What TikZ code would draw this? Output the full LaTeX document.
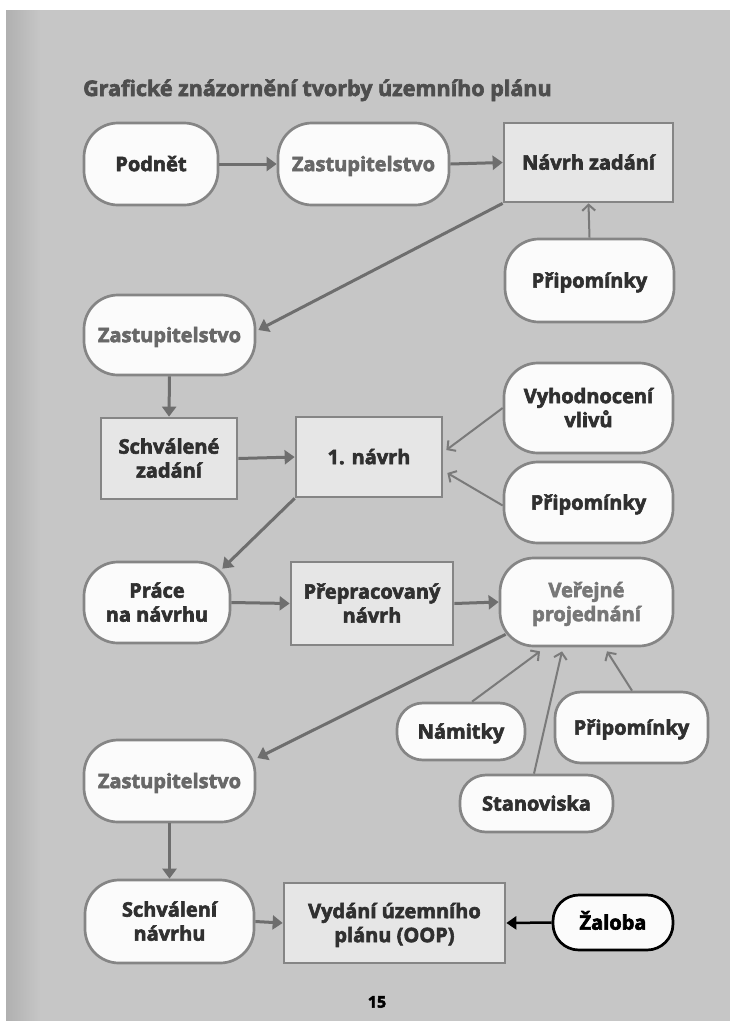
\documentclass[tikz,border=0pt]{standalone}
\usepackage{fontspec}
\setmainfont{Open Sans}[BoldFeatures={FakeBold=3}]
\usetikzlibrary{arrows.meta}
\definecolor{pagebg}{HTML}{C6C6C6}
\definecolor{pageedge}{HTML}{B0B0B0}
\definecolor{boxline}{HTML}{858585}
\definecolor{rectfill}{HTML}{E6E6E6}
\definecolor{roundfill}{HTML}{FBFBFB}
\definecolor{txtdark}{HTML}{303030}
\definecolor{txtgray}{HTML}{686868}
\definecolor{titlegray}{HTML}{4E4E4E}
\definecolor{mainline}{HTML}{6E6E6E}
\definecolor{thinline}{HTML}{7A7A7A}
\tikzset{
  boxbase/.style={draw=boxline, line width=2.7pt, align=center, inner sep=0pt,
    font=\bfseries\fontsize{20}{24}\selectfont, text=txtdark,
    text height=14.3pt, text depth=0pt},
  twolines/.style={text height=38.3pt, text depth=0pt},
  rbox/.style={boxbase, fill=roundfill, rounded corners=34pt},
  rsmall/.style={boxbase, fill=roundfill, rounded corners=26pt},
  sbox/.style={boxbase, fill=rectfill},
  mainarrow/.style={draw=mainline, line width=3pt, -{Triangle[length=10pt,width=14pt]}},
  thinarrow/.style={draw=thinline, line width=2pt, -{Straight Barb[length=6pt,width=13pt]}},
  blackarrow/.style={draw=black, line width=2.5pt, -{Triangle[length=10pt,width=13pt]}}
}
\begin{document}
\begin{tikzpicture}[x=1pt,y=-1pt]
\useasboundingbox (0,0) rectangle (730,1021);
\fill[white] (0,0) rectangle (730,1021);
\fill[pagebg] (6,10) rectangle (730,1021);
\shade[left color=pageedge, right color=pagebg] (6,10) rectangle (40,1021);

\node[anchor=base west, font=\bfseries\fontsize{21.5}{26}\selectfont, text=titlegray, inner sep=0pt] (title) at (83,96) {Grafické znázornění tvorby územního plánu};

\node[rbox, minimum width=134pt, minimum height=82pt] (podnet) at (151,164) {Podnět};
\node[rbox, minimum width=171pt, minimum height=82pt, text=txtgray] (zast1) at (363.5,164) {Zastupitelstvo};
\node[sbox, minimum width=169pt, minimum height=79pt] (navrh) at (588.5,162.5) {Návrh zadání};
\node[rbox, minimum width=169pt, minimum height=83pt] (prip1) at (589.5,280.5) {Připomínky};
\node[rbox, minimum width=171pt, minimum height=80pt, text=txtgray] (zast2) at (169.5,335) {Zastupitelstvo};
\node[sbox, twolines, minimum width=136pt, minimum height=81pt] (schvzad) at (169,458.5) {Schválené\\zadání};
\node[sbox, minimum width=146pt, minimum height=80pt] (navrh1) at (369,457) {1. návrh};
\node[rbox, twolines, minimum width=169pt, minimum height=90pt] (vyhod) at (588.5,408) {Vyhodnocení\\vlivů};
\node[rbox, minimum width=169pt, minimum height=81pt] (prip2) at (588.5,502.5) {Připomínky};
\node[rbox, twolines, minimum width=146pt, minimum height=81pt] (prace) at (157,602.5) {Práce\\na návrhu};
\node[sbox, twolines, minimum width=162pt, minimum height=83pt] (prepr) at (372,603.5) {Přepracovaný\\návrh};
\node[rbox, twolines, minimum width=173pt, minimum height=88pt, text=txtgray!90!white] (verej) at (586.5,602) {Veřejné\\projednání};
\node[rsmall, minimum width=128pt, minimum height=57pt] (namitky) at (461,731.5) {Námitky};
\node[rsmall, minimum width=153pt, minimum height=71pt] (prip3) at (631.5,727.5) {Připomínky};
\node[rsmall, minimum width=153pt, minimum height=57pt] (stanov) at (536.5,803.5) {Stanoviska};
\node[rbox, minimum width=171pt, minimum height=82pt, text=txtgray] (zast3) at (169.5,781) {Zastupitelstvo};
\node[rbox, twolines, minimum width=169pt, minimum height=83pt] (schvnav) at (169.5,921.5) {Schválení\\návrhu};
\node[sbox, twolines, minimum width=221pt, minimum height=80pt] (vydani) at (394.5,923) {Vydání územního\\plánu (OOP)};
\node[rsmall, draw=black, text=black, minimum width=120pt, minimum height=55pt] (zaloba) at (613,922.5) {Žaloba};

\node[font=\bfseries\fontsize{16}{18}\selectfont, text=black] (pagenum) at (377,1002) {15};

% main flow
\draw[mainarrow] (podnet.east) -- (zast1.west);
\draw[mainarrow] (zast1.east) -- (navrh.west);
\draw[mainarrow] (navrh.south west) -- ([xshift=2pt,yshift=5pt]zast2.east);
\draw[mainarrow] (zast2.south) -- (schvzad.north);
\draw[mainarrow] (schvzad.east) -- (navrh1.west);
\draw[mainarrow] (navrh1.south west) -- ([xshift=-9pt,yshift=-8pt]prace.north east);
\draw[mainarrow] (prace.east) -- (prepr.west);
\draw[mainarrow] (prepr.east) -- (verej.west);
\draw[mainarrow] ([xshift=7pt,yshift=13pt]verej.south west) -- ([xshift=1pt,yshift=23pt]zast3.east);
\draw[mainarrow] (zast3.south) -- (schvnav.north);
\draw[mainarrow] (schvnav.east) -- (vydani.west);
\draw[blackarrow] (zaloba.west) -- (vydani.east);

% inputs
\draw[thinarrow] (prip1.north) -- (navrh.south);
\draw[thinarrow] (vyhod.west) -- ([xshift=3pt,yshift=7pt]navrh1.east);
\draw[thinarrow] ([yshift=-3pt]prip2.west) -- ([xshift=4pt,yshift=-16pt]navrh1.east);
\draw[thinarrow] ([xshift=11pt]namitky.north) -- ([xshift=-46.5pt,yshift=-4pt]verej.south);
\draw[thinarrow] ([xshift=-2.5pt]stanov.north) -- ([xshift=-24.5pt,yshift=-4pt]verej.south);
\draw[thinarrow] ([xshift=0.5pt]prip3.north) -- ([xshift=20.5pt,yshift=-4pt]verej.south);
\end{tikzpicture}
\end{document}
